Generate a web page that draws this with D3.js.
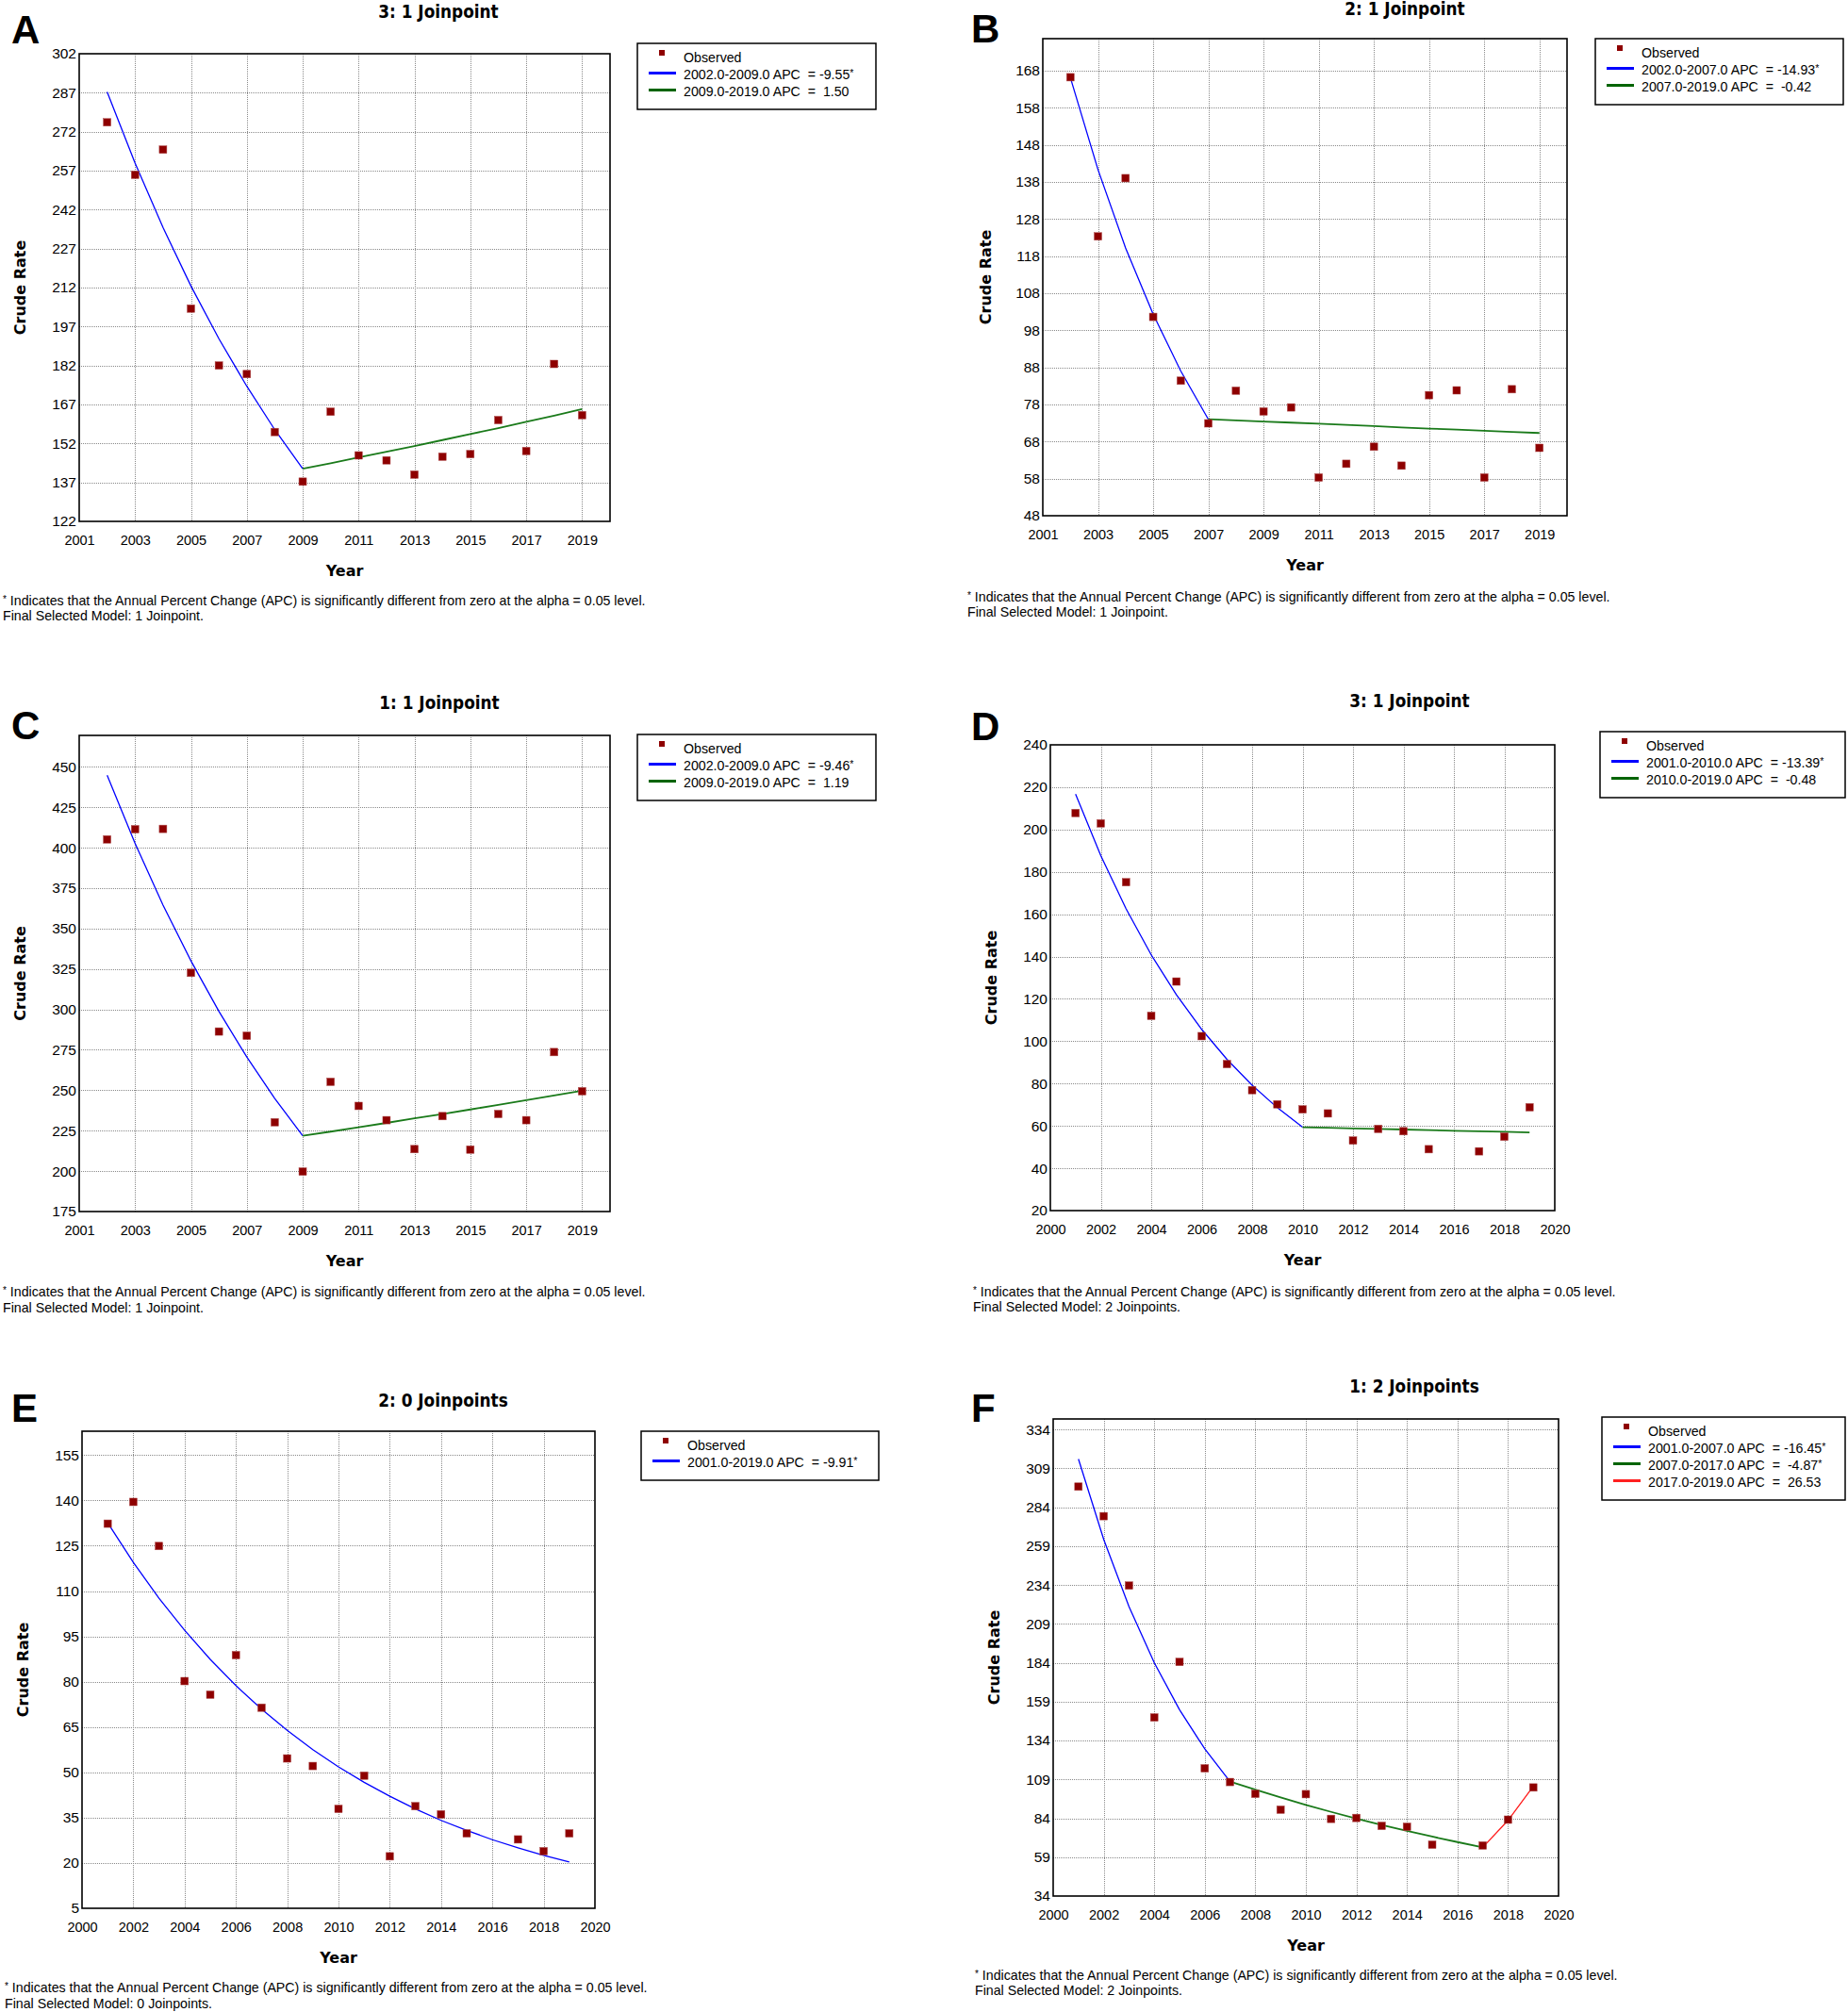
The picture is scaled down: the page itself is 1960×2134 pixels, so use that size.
<!DOCTYPE html>
<html><head><meta charset="utf-8">
<script src="https://cdn.jsdelivr.net/npm/d3@7"></script>
<style>
html,body{margin:0;padding:0;background:#fff;}
svg text{white-space:pre;}
</style></head>
<body><svg id="chart" width="1960" height="2134"></svg>
<script>
// ---------------- DATA ----------------
const yearsObsABC = [2002,2003,2004,2005,2006,2007,2008,2009,2010,2011,2012,2013,2014,2015,2016,2017,2018,2019];
const yearsObsDEF = [2001,2002,2003,2004,2005,2006,2007,2008,2009,2010,2011,2012,2013,2014,2015,2017,2018,2019];

const obsA = [275.6,255.4,265.1,203.9,182.0,178.7,156.4,137.3,164.2,147.4,145.5,140.0,146.9,147.9,161.0,149.1,182.6,162.9];
const obsB = [166.2,123.3,139.0,101.6,84.4,72.9,81.7,76.1,77.2,58.3,62.0,66.6,61.5,80.5,81.8,58.3,82.1,66.3];
const obsC = [405.1,411.4,411.6,322.6,286.3,283.7,230.2,199.7,255.2,240.3,231.5,213.6,234.0,213.3,235.3,231.5,273.6,249.4];
const obsD = [207.8,202.9,175.1,112.0,128.2,102.4,89.2,76.9,70.2,67.8,65.9,53.1,58.6,57.5,49.0,48.0,54.9,68.8];
const obsE = [132.3,139.5,124.9,80.2,75.7,88.8,71.4,54.6,52.1,37.9,48.9,22.2,38.8,36.1,29.8,27.8,23.9,29.8];
const obsF = [297.2,278.2,233.6,148.8,184.5,116.1,107.3,99.7,89.5,99.5,83.6,84.2,79.1,78.5,67.0,66.5,83.1,103.8];

// fitted (modelled) values per year for each joinpoint segment
const segYearsA1 = [2002,2003,2004,2005,2006,2007,2008,2009];
const fitA1 = [287.3,259.9,235.1,212.6,192.3,174.0,157.3,142.3];
const segYearsA2 = [2009,2010,2011,2012,2013,2014,2015,2016,2017,2018,2019];
const fitA2 = [142.3,144.4,146.6,148.8,151.0,153.3,155.6,157.9,160.3,162.7,165.2];

const segYearsB1 = [2002,2003,2004,2005,2006,2007];
const fitB1 = [166.1,141.3,120.2,102.3,87.0,74.0];
const segYearsB2 = [2007,2008,2009,2010,2011,2012,2013,2014,2015,2016,2017,2018,2019];
const fitB2 = [74.0,73.7,73.4,73.1,72.8,72.5,72.2,71.8,71.5,71.2,70.9,70.6,70.3];

const segYearsC1 = [2002,2003,2004,2005,2006,2007,2008,2009];
const fitC1 = [444.7,402.6,364.5,330.0,298.8,270.5,244.9,221.8];
const segYearsC2 = [2009,2010,2011,2012,2013,2014,2015,2016,2017,2018,2019];
const fitC2 = [221.8,224.4,227.1,229.8,232.6,235.3,238.1,241.0,243.9,246.8,249.7];

const segYearsD1 = [2001,2002,2003,2004,2005,2006,2007,2008,2009,2010];
const fitD1 = [216.7,187.7,162.6,140.8,121.9,105.6,91.5,79.2,68.6,59.4];
const segYearsD2 = [2010,2011,2012,2013,2014,2015,2016,2017,2018,2019];
const fitD2 = [59.4,59.1,58.8,58.6,58.3,58.0,57.7,57.5,57.2,56.9];

const segYearsE1 = [2001,2002,2003,2004,2005,2006,2007,2008,2009,2010,2011,2012,2013,2014,2015,2016,2017,2018,2019];
const fitE1 = [132.6,119.5,107.6,97.0,87.4,78.7,70.9,63.9,57.5,51.8,46.7,42.1,37.9,34.1,30.8,27.7,25.0,22.5,20.3];

const segYearsF1 = [2001,2002,2003,2004,2005,2006,2007];
const fitF1 = [314.9,263.3,220.1,184.0,153.8,128.6,107.6];
const segYearsF2 = [2007,2008,2009,2010,2011,2012,2013,2014,2015,2016,2017];
const fitF2 = [107.6,102.4,97.4,92.6,88.1,83.8,79.7,75.9,72.2,68.7,65.3];
const segYearsF3 = [2017,2018,2019];
const fitF3 = [65.3,82.6,104.5];

// axes
const xTicksOdd = [2001,2003,2005,2007,2009,2011,2013,2015,2017,2019];
const xTicksEven = [2000,2002,2004,2006,2008,2010,2012,2014,2016,2018,2020];
const xDomainABC = [2001,2020];
const xDomainDEF = [2000,2020];
const yTicksA = [122,137,152,167,182,197,212,227,242,257,272,287,302];
const yTicksB = [48,58,68,78,88,98,108,118,128,138,148,158,168];
const yTicksC = [175,200,225,250,275,300,325,350,375,400,425,450];
const yTicksD = [20,40,60,80,100,120,140,160,180,200,220,240];
const yTicksE = [5,20,35,50,65,80,95,110,125,140,155];
const yTicksF = [34,59,84,109,134,159,184,209,234,259,284,309,334];
const yDomainA = [122,302];
const yDomainB = [48,176.6];
const yDomainC = [175,469.4];
const yDomainD = [20,240];
const yDomainE = [5,162.9];
const yDomainF = [34,340.7];

// text
const titles = ["3: 1 Joinpoint","2: 1 Joinpoint","1: 1 Joinpoint","3: 1 Joinpoint","2: 0 Joinpoints","1: 2 Joinpoints"];
const letters = ["A","B","C","D","E","F"];
const legendA = ["2002.0-2009.0 APC  = -9.55*","2009.0-2019.0 APC  =  1.50"];
const legendB = ["2002.0-2007.0 APC  = -14.93*","2007.0-2019.0 APC  =  -0.42"];
const legendC = ["2002.0-2009.0 APC  = -9.46*","2009.0-2019.0 APC  =  1.19"];
const legendD = ["2001.0-2010.0 APC  = -13.39*","2010.0-2019.0 APC  =  -0.48"];
const legendE = ["2001.0-2019.0 APC  = -9.91*"];
const legendF = ["2001.0-2007.0 APC  = -16.45*","2007.0-2017.0 APC  =  -4.87*","2017.0-2019.0 APC  =  26.53"];
const footLine1 = " Indicates that the Annual Percent Change (APC) is significantly different from zero at the alpha = 0.05 level.";
const footModels = ["Final Selected Model: 1 Joinpoint.","Final Selected Model: 1 Joinpoint.","Final Selected Model: 1 Joinpoint.","Final Selected Model: 2 Joinpoints.","Final Selected Model: 0 Joinpoints.","Final Selected Model: 2 Joinpoints."];

// ---------------- STYLE ----------------
const BLUE = "#0000ff", GREEN = "#1a7a1a", RED = "#ff1a1a";
const LEG_BLUE = "#0000ff", LEG_GREEN = "#006400", LEG_RED = "#ff2020";
const MARK = "#8e0000";
const SANS = "'Liberation Sans', Arial, sans-serif";
const BOLDF = "'DejaVu Sans', Verdana, sans-serif";
const TITLEF = "'DejaVu Sans Condensed', 'DejaVu Sans', sans-serif";
const SMALL = 14.2;

const panels = [
  {i:0, box:{l:84,r:647,t:57,b:553}, xd:xDomainABC, xt:xTicksOdd, yd:yDomainA, yt:yTicksA, oy:yearsObsABC, ov:obsA,
   segs:[[segYearsA1,fitA1,BLUE],[segYearsA2,fitA2,GREEN]], leg:{l:676,r:929,t:46,items:legendA,cols:[LEG_BLUE,LEG_GREEN]},
   letter:[12,46], title:[465,19], crudeX:21, foot:[3,642,658]},
  {i:1, box:{l:1106,r:1662,t:41,b:547}, xd:xDomainABC, xt:xTicksOdd, yd:yDomainB, yt:yTicksB, oy:yearsObsABC, ov:obsB,
   segs:[[segYearsB1,fitB1,BLUE],[segYearsB2,fitB2,GREEN]], leg:{l:1692,r:1955,t:41,items:legendB,cols:[LEG_BLUE,LEG_GREEN]},
   letter:[1030,45], title:[1490,16], crudeX:1045, foot:[1026,638,654]},
  {i:2, box:{l:84,r:647,t:780,b:1285}, xd:xDomainABC, xt:xTicksOdd, yd:yDomainC, yt:yTicksC, oy:yearsObsABC, ov:obsC,
   segs:[[segYearsC1,fitC1,BLUE],[segYearsC2,fitC2,GREEN]], leg:{l:676,r:929,t:779,items:legendC,cols:[LEG_BLUE,LEG_GREEN]},
   letter:[12,784], title:[466,752], crudeX:21, foot:[3,1375,1392]},
  {i:3, box:{l:1114,r:1649,t:790,b:1284}, xd:xDomainDEF, xt:xTicksEven, yd:yDomainD, yt:yTicksD, oy:yearsObsDEF, ov:obsD,
   segs:[[segYearsD1,fitD1,BLUE],[segYearsD2,fitD2,GREEN]], leg:{l:1697,r:1957,t:776,items:legendD,cols:[LEG_BLUE,LEG_GREEN]},
   letter:[1030,785], title:[1495,750], crudeX:1051, foot:[1032,1375,1391]},
  {i:4, box:{l:87,r:631,t:1518,b:2024}, xd:xDomainDEF, xt:xTicksEven, yd:yDomainE, yt:yTicksE, oy:yearsObsDEF, ov:obsE,
   segs:[[segYearsE1,fitE1,BLUE]], leg:{l:680,r:932,t:1518,items:legendE,cols:[LEG_BLUE]},
   letter:[12,1508], title:[470,1492], crudeX:24, foot:[5,2113,2130]},
  {i:5, box:{l:1117,r:1653,t:1505,b:2011}, xd:xDomainDEF, xt:xTicksEven, yd:yDomainF, yt:yTicksF, oy:yearsObsDEF, ov:obsF,
   segs:[[segYearsF1,fitF1,BLUE],[segYearsF2,fitF2,GREEN],[segYearsF3,fitF3,RED]], leg:{l:1699,r:1957,t:1503,items:legendF,cols:[LEG_BLUE,LEG_GREEN,LEG_RED]},
   letter:[1030,1508], title:[1500,1477], crudeX:1054, foot:[1034,2100,2116]}
];

const svg = d3.select("#chart");

function addStarText(sel, str, size) {
  if (str.endsWith("*")) {
    sel.append("tspan").text(str.slice(0, -1));
    sel.append("tspan").text("*").attr("font-size", size * 0.75).attr("dy", -3);
  } else sel.text(str);
}

panels.forEach(p => {
  const g = svg.append("g");
  const b = p.box;
  const x = d3.scaleLinear().domain(p.xd).range([b.l, b.r]);
  const y = d3.scaleLinear().domain(p.yd).range([b.b, b.t]);

  // panel letter
  g.append("text").attr("x", p.letter[0]).attr("y", p.letter[1])
    .attr("font-family", SANS).attr("font-weight", "bold").attr("font-size", 42).text(letters[p.i]);
  // title
  g.append("text").attr("x", p.title[0]).attr("y", p.title[1]).attr("text-anchor", "middle")
    .attr("font-family", TITLEF).attr("font-weight", "bold").attr("font-size", 18.8).text(titles[p.i]);

  // grid
  const grid = g.append("g").attr("stroke", "#8a8a8a").attr("stroke-width", 1).attr("stroke-dasharray", "1,1");
  grid.selectAll("line.h").data(p.yt.filter(v => y(v) > b.t + 1 && y(v) < b.b - 1)).join("line")
    .attr("x1", b.l).attr("x2", b.r).attr("y1", d => Math.round(y(d)) + 0.5).attr("y2", d => Math.round(y(d)) + 0.5);
  grid.selectAll("line.v").data(p.xt.filter(v => x(v) > b.l + 1 && x(v) < b.r - 1)).join("line")
    .attr("y1", b.t).attr("y2", b.b).attr("x1", d => Math.round(x(d)) + 0.5).attr("x2", d => Math.round(x(d)) + 0.5);

  // axes
  const xa = g.append("g").attr("transform", `translate(0,${b.b})`)
    .call(d3.axisBottom(x).tickValues(p.xt).tickSize(0).tickPadding(15).tickFormat(d3.format("d")));
  xa.select(".domain").remove();
  xa.selectAll("text").attr("font-family", SANS).attr("font-size", 14.5).attr("fill", "#000");
  const ya = g.append("g").attr("transform", `translate(${b.l},0)`)
    .call(d3.axisLeft(y).tickValues(p.yt).tickSize(0).tickPadding(3).tickFormat(d3.format("d")));
  ya.select(".domain").remove();
  ya.selectAll("text").attr("font-family", SANS).attr("font-size", 15.5).attr("fill", "#000");

  // fitted segments
  const line = d3.line().x(d => x(d[0])).y(d => y(d[1]));
  p.segs.forEach(s => {
    const pts = s[0].map((yr, k) => [yr, s[1][k]]);
    g.append("path").attr("d", line(pts)).attr("fill", "none").attr("stroke", s[2])
      .attr("stroke-width", s[2] === GREEN ? 1.8 : 1.3);
  });

  // observed
  const ms = 8;
  g.selectAll("rect.obs").data(p.oy.map((yr, k) => [yr, p.ov[k]])).join("rect")
    .attr("x", d => x(d[0]) - ms / 2).attr("y", d => y(d[1]) - ms / 2)
    .attr("width", ms).attr("height", ms).attr("fill", MARK).attr("stroke", "#b05050").attr("stroke-width", 0.5);

  // frame
  g.append("rect").attr("x", b.l).attr("y", b.t).attr("width", b.r - b.l).attr("height", b.b - b.t)
    .attr("fill", "none").attr("stroke", "#000").attr("stroke-width", 1.6);

  // axis titles
  g.append("text").attr("transform", `translate(${p.crudeX},${(b.t + b.b) / 2}) rotate(-90)`)
    .attr("text-anchor", "middle").attr("dy", "0.36em")
    .attr("font-family", BOLDF).attr("font-weight", "bold").attr("font-size", 16).text("Crude Rate");
  g.append("text").attr("x", (b.l + b.r) / 2).attr("y", b.b + 58).attr("text-anchor", "middle")
    .attr("font-family", BOLDF).attr("font-weight", "bold").attr("font-size", 16).text("Year");

  // legend
  const L = p.leg, rowH = 18, n = L.items.length + 1;
  const lh = 15 + rowH * (n - 1) + 19;
  const lg = g.append("g");
  lg.append("rect").attr("x", L.l).attr("y", L.t).attr("width", L.r - L.l).attr("height", lh)
    .attr("fill", "#fff").attr("stroke", "#000").attr("stroke-width", 1.5);
  const r0 = L.t + 15;
  lg.append("rect").attr("x", L.l + 23).attr("y", r0 - 8).attr("width", 6).attr("height", 6).attr("fill", MARK);
  lg.append("text").attr("x", L.l + 49).attr("y", r0).attr("dy", "0.36em")
    .attr("font-family", SANS).attr("font-size", SMALL).text("Observed");
  L.items.forEach((t, k) => {
    const ry = r0 + rowH * (k + 1);
    lg.append("line").attr("x1", L.l + 12).attr("x2", L.l + 41).attr("y1", ry - 1.5).attr("y2", ry - 1.5)
      .attr("stroke", L.cols[k]).attr("stroke-width", 3);
    const tx = lg.append("text").attr("x", L.l + 49).attr("y", ry).attr("dy", "0.36em")
      .attr("font-family", SANS).attr("font-size", SMALL);
    addStarText(tx, t, SMALL);
  });

  // footnote
  const f1 = g.append("text").attr("x", p.foot[0]).attr("y", p.foot[1])
    .attr("font-family", SANS).attr("font-size", SMALL);
  f1.append("tspan").text("*").attr("font-size", 10).attr("dy", -3);
  f1.append("tspan").text(footLine1).attr("dy", 3);
  g.append("text").attr("x", p.foot[0]).attr("y", p.foot[2])
    .attr("font-family", SANS).attr("font-size", SMALL).text(footModels[p.i]);
});
</script>
</body></html>
